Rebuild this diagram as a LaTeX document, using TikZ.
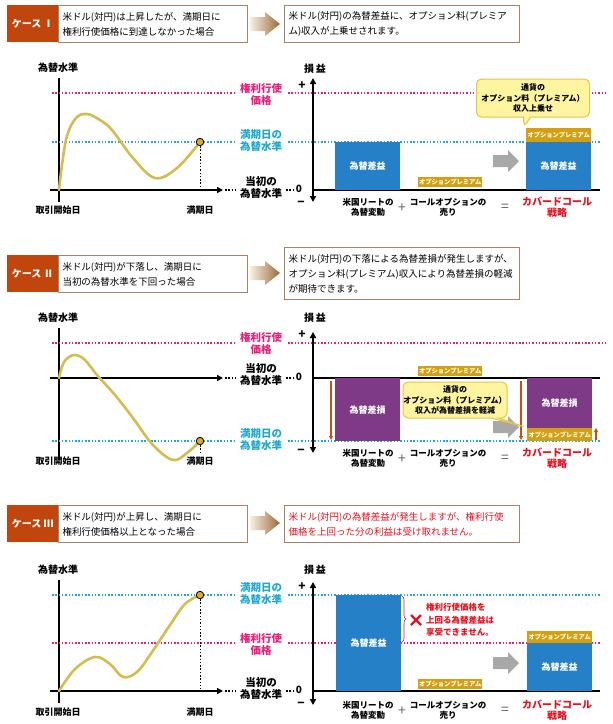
\documentclass[tikz,border=0pt]{standalone}
\usepackage{fontspec}
\setmainfont{Noto Sans CJK JP}
\usetikzlibrary{positioning,arrows.meta,shapes.callouts,decorations.pathreplacing}

\definecolor{caseorange}{RGB}{192,70,14}
\definecolor{boxline}{RGB}{170,130,105}
\definecolor{curveyellow}{RGB}{212,188,80}
\definecolor{dotyellow}{RGB}{226,168,30}
\definecolor{strikepink}{RGB}{232,30,120}
\definecolor{levelcyan}{RGB}{30,168,208}
\definecolor{gainblue}{RGB}{38,128,200}
\definecolor{losspurple}{RGB}{126,58,134}
\definecolor{premgold}{RGB}{212,160,16}
\definecolor{notefill}{RGB}{255,244,160}
\definecolor{noteline}{RGB}{230,196,70}
\definecolor{arrowgrey}{RGB}{168,168,168}
\definecolor{warnred}{RGB}{230,16,30}
\definecolor{downorange}{RGB}{200,80,12}
\definecolor{arrowlight}{RGB}{246,240,226}
\definecolor{arrowbrown}{RGB}{156,106,58}

\tikzset{
  axtip/.tip={Triangle[length=6pt, width=6pt]},
  casebox/.style={fill=caseorange, text=white, font=\bfseries\fontsize{10}{12}\selectfont,
    minimum width=51, minimum height=37, anchor=north west, inner sep=0},
  textbox/.style={draw=boxline, line width=1pt, fill=white, anchor=north west, align=left,
    inner xsep=4, inner ysep=2, font=\fontsize{9.5}{15}\selectfont},
  axis/.style={line width=1.8pt, black},
  pinkline/.style={draw=strikepink, line width=1.3pt, dash pattern=on 1.5pt off 1.8pt},
  cyanline/.style={draw=levelcyan, line width=1.3pt, dash pattern=on 1.5pt off 1.8pt},
  blackdots/.style={draw=black, line width=1.2pt, dash pattern=on 1.5pt off 1.8pt},
  zeroline/.style={line width=2pt, black},
  rate/.style={draw=curveyellow, line width=2.6pt, line cap=round},
  enddot/.style={circle, fill=dotyellow, draw=black, line width=0.8pt, minimum size=7.5, inner sep=0},
  axislab/.style={font=\bfseries\fontsize{10}{12}\selectfont, inner sep=0},
  levellab/.style={font=\bfseries\fontsize{10.5}{12}\selectfont, align=center, inner sep=0},
  datelab/.style={font=\bfseries\fontsize{9}{11}\selectfont, inner sep=0},
  signlab/.style={font=\bfseries\fontsize{12}{12}\selectfont, inner sep=0},
  footlab/.style={font=\bfseries\fontsize{8.5}{10}\selectfont, align=center, inner sep=0},
  oplab/.style={font=\fontsize{14}{14}\selectfont, text=black!60, inner sep=0},
  redfoot/.style={font=\bfseries\fontsize{10}{11}\selectfont, text=warnred, align=center, inner sep=0},
  gainbox/.style={fill=gainblue, text=white, font=\bfseries\fontsize{9}{10}\selectfont, inner sep=0},
  lossbox/.style={fill=losspurple, text=white, font=\bfseries\fontsize{9}{10}\selectfont, inner sep=0},
  premtag/.style={fill=premgold, text=white, font=\bfseries\fontsize{6.3}{7}\selectfont, inner sep=0},
  note/.style={rectangle callout, rounded corners=5pt, fill=notefill, draw=noteline, line width=1pt,
    align=center, inner sep=0, font=\bfseries\fontsize{8}{10.5}\selectfont},
  flow/.style={draw=downorange, line width=1.2pt, -{Triangle[length=4pt, width=4pt]}},
  headarrow/.pic={\shade[left color=arrowlight, right color=arrowbrown]
    (0,-7) -- (15,-7) -- (15,-12) -- (30,0) -- (15,12) -- (15,7) -- (0,7) -- cycle;},
  greyarrow/.pic={\fill[arrowgrey]
    (0,-6) -- (15,-6) -- (15,-11) -- (26,0) -- (15,11) -- (15,6) -- (0,6) -- cycle;}
}

\begin{document}
\begin{tikzpicture}[x=1pt, y=-1pt]
\useasboundingbox (0,0) rectangle (613,724);

% ---------- case I ----------
\node[casebox] (c1) at (7,5) {ケース Ⅰ};
\node[textbox, minimum height=37, text width=181] (q1) at (58,5)
  {米ドル(対円)は上昇したが、満期日に\\権利行使価格に到達しなかった場合};
\pic at (250,24) {headarrow};
\node[textbox, minimum height=37, text width=227] (a1) at (284,5)
  {米ドル(対円)の為替差益に、オプション料(プレミア\\ム)収入が上乗せされます。};

\node[axislab] (l1) at (58,68) {為替水準};
\coordinate (yt1) at (59,78);
\coordinate (yb1) at (59,202);
\draw[axis] (yt1) -- (yb1);
\coordinate (xl1) at (50,190);
\coordinate (xr1) at (223,190);
\draw[axis, -{axtip}] (xl1) -- (xr1);
\draw[blackdots] (225,190) -- (235,190);
\node[levellab] (base1) at (261,188) {当初の\\為替水準};
\draw[blackdots] (286,190) -- (294,190);
\node[axislab] (zero1) at (299,189) {0};
\draw[pinkline] (52,93) -- (234,93);
\node[levellab, text=strikepink] (k1) at (261,94) {権利行使\\価格};
\draw[pinkline] (288,93) -- (605,93);
\draw[cyanline] (52,142) -- (234,142);
\node[levellab, text=levelcyan] (m1) at (261,141) {満期日の\\為替水準};
\draw[cyanline] (288,142) -- (600,142);
\draw[rate] plot[smooth, tension=0.6] coordinates
  {(59,190) (62,165) (67,136) (76,118) (87,114) (100,120) (112,130) (133,158) (155,178) (177,168) (200,142)};
\node[enddot] (d1) at (200,142) {};
\draw[blackdots, line width=1pt] (d1) -- (200,189);
\node[datelab] (s1) at (58,210) {取引開始日};
\node[datelab] (e1) at (200,210) {満期日};

\node[axislab] (pl1) at (315,69) {損\,益};
\draw[axis, {axtip}-{axtip}] (313,202) -- (313,78);
\node[signlab] (plus1) at (302,86) {+};
\node[signlab] (minus1) at (301,204) {−};
\draw[zeroline] (313,190) -- (600,190);
\node[gainbox, minimum width=65, minimum height=48, anchor=north west] (g11) at (335,142) {為替差益};
\node[premtag, minimum width=64, minimum height=10, anchor=south west] (t11) at (418,187) {オプションプレミアム};
\pic at (493,161) {greyarrow};
\node[gainbox, minimum width=65, minimum height=48, anchor=north west] (g12) at (526,142) {為替差益};
\node[premtag, minimum width=65, minimum height=14, anchor=south west] (t12) at (526,142) {オプションプレミアム};
\node[note, minimum width=113, minimum height=38, callout absolute pointer={(524,127)}] (n1) at (533,98)
  {通貨の\\オプション料（プレミアム）\\収入上乗せ};
\node[footlab] (f11) at (368,207) {米国リートの\\為替変動};
\node[oplab] (o11) at (402,208) {+};
\node[footlab] (f12) at (448,207) {コールオプションの\\売り};
\node[oplab] (o12) at (505,208) {=};
\node[redfoot] (f13) at (557,207) {カバードコール\\戦略};

% ---------- case II ----------
\node[casebox] (c2) at (7,255) {ケース Ⅱ};
\node[textbox, minimum height=37, text width=181] (q2) at (58,255)
  {米ドル(対円)が下落し、満期日に\\当初の為替水準を下回った場合};
\pic at (250,273) {headarrow};
\node[textbox, minimum height=52, text width=227] (a2) at (284,247)
  {米ドル(対円)の下落による為替差損が発生しますが、\\オプション料(プレミアム)収入により為替差損の軽減\\が期待できます。};

\node[axislab] (l2) at (58,318) {為替水準};
\coordinate (yt2) at (59,328);
\coordinate (yb2) at (59,460);
\draw[axis] (yt2) -- (yb2);
\coordinate (xl2) at (50,378);
\coordinate (xr2) at (223,378);
\draw[axis, -{axtip}] (xl2) -- (xr2);
\draw[blackdots] (225,378) -- (235,378);
\node[levellab] (base2) at (261,375) {当初の\\為替水準};
\draw[blackdots] (286,378) -- (294,378);
\node[axislab] (zero2) at (299,377) {0};
\draw[pinkline] (52,343) -- (234,343);
\node[levellab, text=strikepink] (k2) at (261,343) {権利行使\\価格};
\draw[pinkline] (288,343) -- (605,343);
\draw[cyanline] (52,441) -- (234,441);
\node[levellab, text=levelcyan] (m2) at (261,440) {満期日の\\為替水準};
\draw[cyanline] (288,441) -- (600,441);
\draw[rate] plot[smooth, tension=0.6] coordinates
  {(59,378) (63,364) (69,357) (76,355) (85,360) (97,375) (115,395) (133,418) (153,445) (173,460) (187,453) (200,441)};
\node[enddot] (d2) at (200,441) {};
\draw[blackdots, line width=1pt] (d2) -- (200,452);
\node[datelab] (s2) at (58,461) {取引開始日};
\node[datelab] (e2) at (200,461) {満期日};

\node[axislab] (pl2) at (315,318) {損\,益};
\draw[axis, {axtip}-{axtip}] (313,453) -- (313,332);
\node[signlab] (plus2) at (302,335) {+};
\node[signlab] (minus2) at (301,452) {−};
\draw[zeroline] (313,378) -- (600,378);
\node[lossbox, minimum width=65, minimum height=63, anchor=north west] (g21) at (335,378) {為替差損};
\draw[flow] (331,381) -- (331,440);
\node[premtag, minimum width=64, minimum height=10, anchor=south west] (t21) at (418,376) {オプションプレミアム};
\pic at (493,427) {greyarrow};
\draw[flow] (521,381) -- (521,440);
\node[lossbox, minimum width=65, minimum height=50, anchor=north west] (g22) at (527,378) {為替差損};
\node[premtag, minimum width=65, minimum height=13, anchor=north west] (t22) at (527,428) {オプションプレミアム};
\draw[flow] (596,440) -- (596,428);
\node[note, minimum width=104, minimum height=36, callout absolute pointer={(525,427)}] (n2) at (455,400)
  {通貨の\\オプション料（プレミアム）\\収入が為替差損を軽減};
\node[footlab] (f21) at (368,458) {米国リートの\\為替変動};
\node[oplab] (o21) at (402,459) {+};
\node[footlab] (f22) at (448,458) {コールオプションの\\売り};
\node[oplab] (o22) at (505,459) {=};
\node[redfoot] (f23) at (557,458) {カバードコール\\戦略};

% ---------- case III ----------
\node[casebox] (c3) at (7,505) {ケース Ⅲ};
\node[textbox, minimum height=37, text width=181] (q3) at (58,505)
  {米ドル(対円)が上昇し、満期日に\\権利行使価格以上となった場合};
\pic at (250,523) {headarrow};
\node[textbox, minimum height=37, text width=227, text=warnred] (a3) at (284,505)
  {米ドル(対円)の為替差益が発生しますが、権利行使\\価格を上回った分の利益は受け取れません。};

\node[axislab] (l3) at (58,570) {為替水準};
\coordinate (yt3) at (59,580);
\coordinate (yb3) at (59,703);
\draw[axis] (yt3) -- (yb3);
\coordinate (xl3) at (50,691);
\coordinate (xr3) at (223,691);
\draw[axis, -{axtip}] (xl3) -- (xr3);
\draw[blackdots] (225,691) -- (235,691);
\node[levellab] (base3) at (261,689) {当初の\\為替水準};
\draw[blackdots] (286,691) -- (294,691);
\node[axislab] (zero3) at (299,690) {0};
\draw[cyanline] (52,595) -- (234,595);
\node[levellab, text=levelcyan] (m3) at (261,594) {満期日の\\為替水準};
\draw[cyanline] (288,595) -- (600,595);
\draw[pinkline] (52,643) -- (234,643);
\node[levellab, text=strikepink] (k3) at (261,644) {権利行使\\価格};
\draw[pinkline] (288,643) -- (600,643);
\draw[rate] plot[smooth, tension=0.6] coordinates
  {(59,691) (75,669) (95,657) (110,664) (123,677) (137,672) (150,655) (170,625) (185,604) (200,595)};
\node[enddot] (d3) at (200,595) {};
\draw[blackdots, line width=1pt] (d3) -- (200,689);
\node[datelab] (s3) at (58,712) {取引開始日};
\node[datelab] (e3) at (200,712) {満期日};

\node[axislab] (pl3) at (315,570) {損\,益};
\draw[axis, {axtip}-{axtip}] (313,705) -- (313,582);
\node[signlab] (plus3) at (302,587) {+};
\node[signlab] (minus3) at (301,705) {−};
\draw[zeroline] (313,691) -- (600,691);
\node[gainbox, minimum width=65, minimum height=96, anchor=north west] (g31) at (336,595) {為替差益};
\draw[warnred, line width=0.6pt, decorate, decoration={brace, amplitude=4pt}] (402,596) -- (402,642);
\draw[warnred, line width=2.2pt] (411,615) -- (421,625) (411,625) -- (421,615);
\node[font=\bfseries\fontsize{8.5}{12.5}\selectfont, text=warnred, align=left, anchor=west, inner sep=0] (w3) at (426,620)
  {権利行使価格を\\上回る為替差益は\\享受できません。};
\node[premtag, minimum width=64, minimum height=10, anchor=south west] (t31) at (418,689) {オプションプレミアム};
\pic at (493,663) {greyarrow};
\node[gainbox, minimum width=65, minimum height=48, anchor=north west] (g32) at (527,643) {為替差益};
\node[premtag, minimum width=65, minimum height=12, anchor=south west] (t32) at (527,643) {オプションプレミアム};
\node[footlab] (f31) at (368,710) {米国リートの\\為替変動};
\node[oplab] (o31) at (402,711) {+};
\node[footlab] (f32) at (448,710) {コールオプションの\\売り};
\node[oplab] (o32) at (505,711) {=};
\node[redfoot] (f33) at (557,710) {カバードコール\\戦略};
\end{tikzpicture}
\end{document}
